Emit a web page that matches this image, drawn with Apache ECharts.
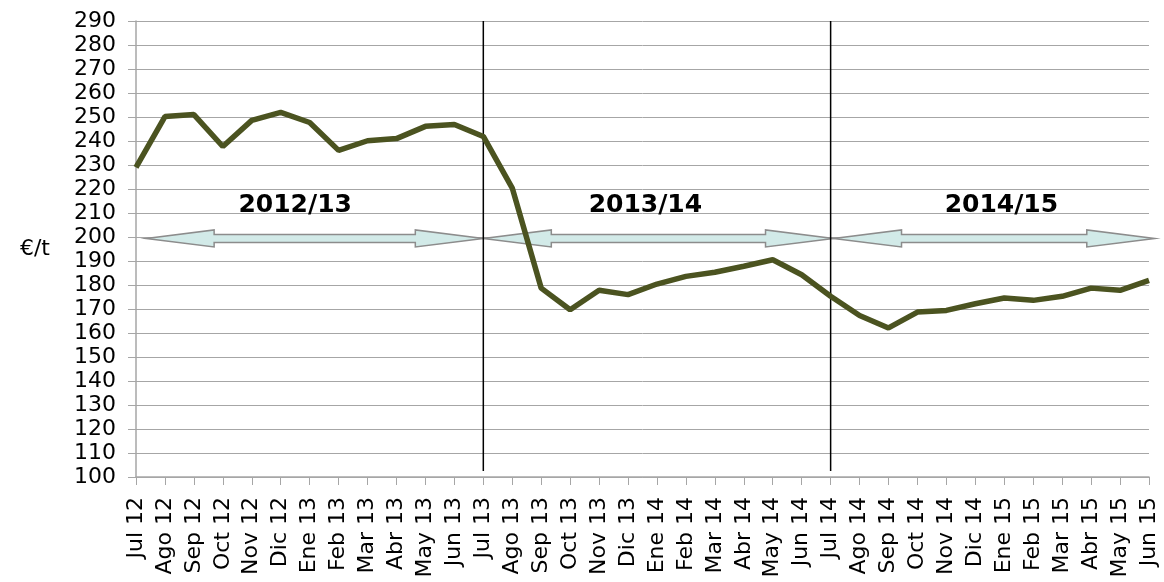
<!DOCTYPE html>
<html>
<head>
<meta charset="utf-8">
<style>
  html, body { margin: 0; padding: 0; background: #fff; }
  #main { width: 1164px; height: 582px; }
</style>
<script src="https://cdn.jsdelivr.net/npm/echarts@6/dist/echarts.min.js"></script>
</head>
<body>
<div id="main"></div>
<script>
// meses (Jul 12 - Jun 15)
var months = ['Jul 12', 'Ago 12', 'Sep 12', 'Oct 12', 'Nov 12', 'Dic 12', 'Ene 13', 'Feb 13', 'Mar 13', 'Abr 13', 'May 13', 'Jun 13',
  'Jul 13', 'Ago 13', 'Sep 13', 'Oct 13', 'Nov 13', 'Dic 13', 'Ene 14', 'Feb 14', 'Mar 14', 'Abr 14', 'May 14', 'Jun 14',
  'Jul 14', 'Ago 14', 'Sep 14', 'Oct 14', 'Nov 14', 'Dic 14', 'Ene 15', 'Feb 15', 'Mar 15', 'Abr 15', 'May 15', 'Jun 15'];

// precio €/t
var prices = [229, 250.2, 251, 237.7, 248.6, 251.9, 247.7, 236.1, 240.1, 241, 246.1, 246.9,
  241.9, 220.4, 178.7, 169.7, 177.8, 176, 180.4, 183.6, 185.3, 187.8, 190.5, 184.3,
  175.3, 167.3, 162.1, 168.7, 169.4, 172.2, 174.6, 173.6, 175.3, 178.7, 177.8, 181.9];

// campañas
var seasons = ['2012/13', '2013/14', '2014/15'];
var seasonStart = [0.35, 12, 24.1];
var seasonEnd = [12, 24.1, 35.2];
var seasonLabelX = [5.5, 17.6, 29.9];
var seasonLabelY = 213;
var arrowLevel = 199.4;

// separadores de campaña
var separators = [12, 24];
var sepTop = 290;
var sepBottom = 102.5;

var font = 'DejaVu Sans';

var arrowData = seasons.map(function (s, i) {
  return [seasonStart[i], seasonEnd[i], arrowLevel, seasonLabelX[i], seasonLabelY];
});

function renderArrow(params, api) {
  var p0 = api.coord([api.value(0), api.value(2)]);
  var p1 = api.coord([api.value(1), api.value(2)]);
  var t = api.coord([api.value(3), api.value(4)]);
  var y = p0[1], L = 68, hh = 8.5, sh = 4;
  var x0 = p0[0], x1 = p1[0];
  var pts = [
    [x0, y], [x0 + L, y - hh], [x0 + L, y - sh], [x1 - L, y - sh], [x1 - L, y - hh],
    [x1, y], [x1 - L, y + hh], [x1 - L, y + sh], [x0 + L, y + sh], [x0 + L, y + hh]
  ];
  return {
    type: 'group',
    children: [{
      type: 'polygon',
      shape: { points: pts },
      style: { fill: '#d2eae8', stroke: '#8c8c8c', lineWidth: 1.5 }
    }, {
      type: 'text',
      style: {
        text: seasons[params.dataIndex],
        x: t[0], y: t[1],
        align: 'center', verticalAlign: 'middle',
        font: 'bold 25px "' + font + '"',
        fill: '#000'
      }
    }]
  };
}

function renderSep(params, api) {
  var a = api.coord([api.value(0), sepTop]);
  var b = api.coord([api.value(0), sepBottom]);
  return {
    type: 'line',
    shape: { x1: a[0], y1: a[1], x2: b[0], y2: b[1] },
    style: { stroke: '#000', lineWidth: 1.5 }
  };
}

var chart = echarts.init(document.getElementById('main'));
chart.setOption({
  animation: false,
  textStyle: { fontFamily: font },
  grid: { left: 136, right: 15, top: 21, bottom: 105 },
  xAxis: [{
    type: 'category',
    data: months,
    boundaryGap: false,
    axisLine: { lineStyle: { color: '#a6a6a6', width: 1.5 } },
    axisTick: { show: true, alignWithLabel: true, length: 8, lineStyle: { color: '#a6a6a6' }, interval: 0 },
    axisLabel: { rotate: 90, interval: 0, margin: 20, color: '#000', fontSize: 22, fontFamily: font },
    splitLine: { show: false }
  }, {
    type: 'value',
    min: 0,
    max: 35,
    show: false
  }],
  yAxis: {
    type: 'value',
    min: 100,
    max: 290,
    interval: 10,
    name: '€/t',
    nameLocation: 'middle',
    nameRotate: 0,
    nameGap: 86,
    nameTextStyle: { color: '#000', fontSize: 22, fontFamily: font },
    axisLine: { show: true, lineStyle: { color: '#a6a6a6', width: 1.5 } },
    axisTick: { show: true, length: 8, lineStyle: { color: '#a6a6a6' } },
    axisLabel: { margin: 20, color: '#000', fontSize: 22, fontFamily: font },
    splitLine: { show: true, lineStyle: { color: '#a6a6a6', width: 1 } }
  },
  series: [{
    type: 'custom',
    xAxisIndex: 1,
    clip: false,
    z: 2,
    renderItem: renderArrow,
    data: arrowData
  }, {
    type: 'custom',
    xAxisIndex: 1,
    clip: false,
    z: 3,
    renderItem: renderSep,
    data: separators.map(function (v) { return [v]; })
  }, {
    type: 'line',
    data: prices,
    z: 4,
    showSymbol: false,
    symbol: 'none',
    lineStyle: { color: '#4b5320', width: 5.5 },
    itemStyle: { color: '#4b5320' }
  }]
});
</script>
</body>
</html>
